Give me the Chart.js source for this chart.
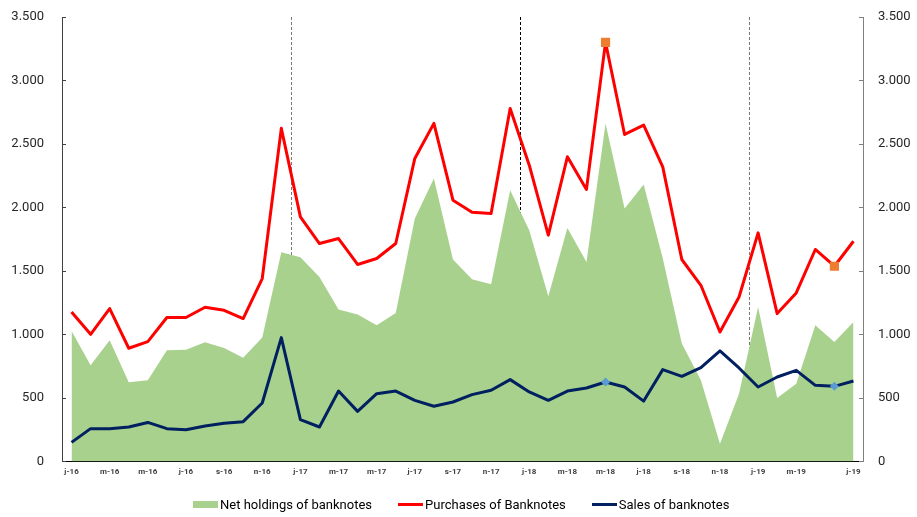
<!DOCTYPE html>
<html>
<head>
<meta charset="utf-8">
<script src="https://cdn.jsdelivr.net/npm/chart.js@4.4.1/dist/chart.umd.min.js"></script>
<style>
  html, body { margin: 0; padding: 0; background: #fff; }
  #wrap { position: relative; width: 917px; height: 517px; }
  #legend {
    position: absolute; left: 193px; top: 497px;
    display: flex; align-items: center;
    font: 13px Roboto, sans-serif;
    color: #000; white-space: nowrap;
  }
  #legend .item { display: flex; align-items: center; margin-right: 26px; }
  #legend .sw { width: 25px; margin-right: 2px; }
  #legend .box { height: 7px; }
  #legend .ln { height: 3px; }
</style>
</head>
<body>
<div id="wrap">
  <canvas id="chart1" width="917" height="517"></canvas>
  <div id="legend"></div>
</div>
<script>
// Monthly labels, Jan 2016 - Jun 2019
const months = [
  'j-16','f-16','m-16','a-16','m-16','j-16','j-16','a-16','s-16','o-16','n-16','d-16',
  'j-17','f-17','m-17','a-17','m-17','j-17','j-17','a-17','s-17','o-17','n-17','d-17',
  'j-18','f-18','m-18','a-18','m-18','j-18','j-18','a-18','s-18','o-18','n-18','d-18',
  'j-19','f-19','m-19','a-19','m-19','j-19'
];

const netHoldings = [
  1027, 757, 954, 623, 639, 875, 880, 938, 893, 817, 975, 1648,
  1608, 1453, 1196, 1156, 1072, 1169, 1913, 2228, 1590, 1435, 1395, 2136,
  1821, 1301, 1839, 1571, 2662, 1992, 2181, 1600, 928, 639, 139, 533,
  1216, 499, 612, 1072, 941, 1098
];

const purchases = [
  1177, 1001, 1204, 891, 943, 1133, 1133, 1214, 1190, 1125, 1440, 2623,
  1926, 1716, 1755, 1551, 1598, 1716, 2386, 2662, 2057, 1963, 1953, 2780,
  2333, 1782, 2399, 2142, 3300, 2575, 2649, 2320, 1590, 1387, 1019, 1295,
  1800, 1164, 1327, 1669, 1537, 1734
];

const sales = [
  150, 258, 258, 271, 307, 258, 250, 279, 300, 313, 460, 975,
  329, 271, 554, 394, 533, 554, 481, 434, 468, 526, 560, 644,
  547, 481, 554, 578, 625, 586, 475, 723, 670, 738, 870, 736,
  586, 665, 717, 599, 591, 633
];

// months that get a highlighted marker (m-18 and m-19)
const markedMonths = [28, 40];

const yTicks = [0, 500, 1000, 1500, 2000, 2500, 3000, 3500];

const GREEN = '#A9D18E';
const RED = '#FF0000';
const NAVY = '#002060';
const ORANGE = '#ED7D31';
const LIGHTBLUE = '#5B9BD5';

const fmt = v => String(v).replace(/\B(?=(\d{3})+(?!\d))/g, '.');

const markerRadius = (r) => months.map((_, i) => markedMonths.includes(i) ? r : 0);

// dashed separators between December and January
const yearBreaks = {
  id: 'yearBreaks',
  beforeDatasetsDraw(chart) {
    const x = chart.scales.x;
    const area = chart.chartArea;
    const ctx = chart.ctx;
    ctx.save();
    ctx.lineWidth = 1;
    ctx.setLineDash([3, 2]);
    let n = 0;
    for (let i = 1; i < months.length; i++) {
      if (months[i].endsWith(months[i - 1].slice(-2))) continue;
      const px = Math.round((x.getPixelForValue(i - 1) + x.getPixelForValue(i)) / 2) + 0.5;
      ctx.strokeStyle = n === 1 ? '#000' : '#777';
      ctx.beginPath();
      ctx.moveTo(px, area.top);
      ctx.lineTo(px, area.bottom);
      ctx.stroke();
      n++;
    }
    ctx.restore();
  }
};

// short tick marks pointing into the plot on both value axes
const innerTicks = {
  id: 'innerTicks',
  afterDraw(chart) {
    const ctx = chart.ctx;
    ctx.save();
    ctx.lineWidth = 1;
    [['y', 1, '#404040'], ['y2', -1, '#808080']].forEach(([id, dir, col]) => {
      const s = chart.scales[id];
      const ax = id === 'y' ? s.right : s.left;
      ctx.strokeStyle = col;
      s.ticks.forEach(t => {
        const py = Math.round(s.getPixelForValue(t.value)) + 0.5;
        ctx.beginPath();
        ctx.moveTo(ax, py);
        ctx.lineTo(ax + dir * 4, py);
        ctx.stroke();
      });
    });
    ctx.restore();
  }
};

const valueAxis = (position, color, pad, width) => ({
  type: 'linear',
  position: position,
  min: 0,
  max: 3500,
  afterBuildTicks: (axis) => { axis.ticks = yTicks.map(v => ({ value: v })); },
  afterFit: (axis) => {
    axis.width = width;
    axis.paddingTop = 0;
    axis.paddingBottom = 0;
  },
  grid: { display: false, drawTicks: false },
  border: { display: true, color: color, width: 1 },
  ticks: {
    padding: pad,
    color: '#262626',
    font: { family: 'Roboto', size: 13 },
    callback: v => fmt(v)
  }
});

const ctx = document.getElementById('chart1').getContext('2d');
const chart = new Chart(ctx, {
  type: 'line',
  data: {
    labels: months,
    datasets: [
      {
        label: 'Net holdings of banknotes',
        data: netHoldings,
        backgroundColor: GREEN,
        borderColor: GREEN,
        borderWidth: 0,
        fill: 'origin',
        pointRadius: 0,
        tension: 0,
        order: 3
      },
      {
        label: 'Purchases of Banknotes',
        data: purchases,
        borderColor: RED,
        borderWidth: 3,
        borderJoinStyle: 'round',
        fill: false,
        tension: 0,
        pointStyle: 'rect',
        pointRadius: markerRadius(6.5),
        pointHoverRadius: 0,
        pointBackgroundColor: ORANGE,
        pointBorderColor: ORANGE,
        pointBorderWidth: 0,
        order: 2
      },
      {
        label: 'Sales of banknotes',
        data: sales,
        borderColor: NAVY,
        borderWidth: 3,
        borderJoinStyle: 'round',
        fill: false,
        tension: 0,
        pointStyle: 'rectRot',
        pointRadius: markerRadius(4.5),
        pointHoverRadius: 0,
        pointBackgroundColor: LIGHTBLUE,
        pointBorderColor: LIGHTBLUE,
        pointBorderWidth: 0,
        order: 1
      }
    ]
  },
  options: {
    responsive: false,
    animation: false,
    layout: { autoPadding: false, padding: { top: 17, left: 11, right: 6, bottom: 34 } },
    scales: {
      x: {
        offset: true,
        grid: { display: false, drawTicks: false },
        border: { display: true, color: '#000', width: 1 },
        ticks: {
          autoSkip: false,
          maxRotation: 0,
          padding: 6,
          color: '#404040',
          font: { family: 'Roboto', size: 8, weight: 'bold' },
          callback: (v, i) => (i === months.length - 1 || (i % 2 === 0 && i < months.length - 2)) ? months[i] : ''
        }
      },
      y: valueAxis('left', '#404040', 18, 51),
      y2: valueAxis('right', '#808080', 15, 48)
    },
    plugins: {
      tooltip: { enabled: false },
      legend: { display: false }
    }
  },
  plugins: [yearBreaks, innerTicks]
});

// legend row under the plot
const legendEl = document.getElementById('legend');
chart.data.datasets.forEach((ds, i) => {
  const item = document.createElement('div');
  item.className = 'item';
  const sw = document.createElement('span');
  sw.className = 'sw ' + (i === 0 ? 'box' : 'ln');
  sw.style.background = ds.borderColor;
  const txt = document.createElement('span');
  txt.textContent = ds.label;
  item.appendChild(sw);
  item.appendChild(txt);
  legendEl.appendChild(item);
});
</script>
</body>
</html>
